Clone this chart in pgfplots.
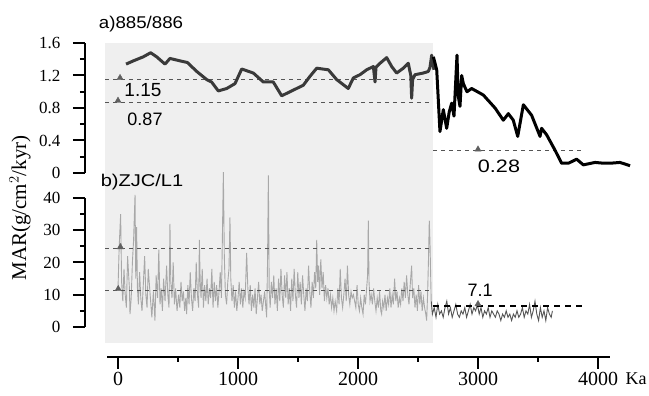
\documentclass[border=0pt]{standalone}
\usepackage{pgfplots}
\pgfplotsset{compat=1.18}
\usepackage{fontspec}
\setmainfont{Liberation Serif}
\newfontfamily\labsans{Liberation Sans}
\definecolor{bgshade}{HTML}{EFEFEF}
\definecolor{topgrey}{HTML}{3A3A3A}
\definecolor{botgrey}{HTML}{A8A8A8}
\definecolor{botdark}{HTML}{555555}
\definecolor{dashc}{HTML}{555555}
\definecolor{tric}{HTML}{606060}

\pgfplotsset{
  panel/.style={
    scale only axis, anchor=south west, width=525pt,
    xmin=-275, xmax=4100, clip=false,
    axis x line=none, axis y line=left,
    y axis line style={-, line width=2.6pt},
    tick align=outside,
    major tick length=12pt, minor tick length=5pt,
    every tick/.style={black, line width=2pt},
    ytick pos=left,
    /pgf/number format/assume math mode=true,
    /pgf/number format/1000 sep={},
    yticklabel style={font=\fontsize{17}{19}\selectfont, xshift=-9pt},
  },
  dline/.style={dashc, line width=1pt, dash pattern=on 4pt off 4pt},
}

\pgfplotstableread{
x y
67 1.34
128 1.38
211 1.43
272 1.48
322 1.43
392 1.34
433 1.41
517 1.38
578 1.36
656 1.25
739 1.15
780 1.12
836 1.01
906 1.04
975 1.10
1031 1.28
1128 1.23
1211 1.12
1294 1.12
1364 0.95
1461 1.02
1544 1.08
1600 1.19
1656 1.29
1753 1.27
1822 1.15
1919 1.04
1961 1.17
2017 1.21
2072 1.27
2128 1.31
2142 1.12
2150 1.30
2183 1.35
2239 1.42
2281 1.31
2322 1.23
2378 1.29
2419 1.35
2440 1.20
2447 0.92
2455 1.15
2475 1.21
2544 1.23
2586 1.25
2600 1.30
2614 1.45
2633 1.27
}\topA

\pgfplotstableread{
x y
2628 1.43
2656 1.27
2683 0.51
2711 0.78
2739 0.55
2760 0.75
2781 0.86
2800 0.70
2825 1.45
2835 0.95
2850 0.82
2864 1.20
2878 1.10
2908 1.00
2947 1.04
3044 0.96
3142 0.80
3211 0.65
3253 0.73
3294 0.65
3331 0.45
3378 0.84
3447 0.71
3517 0.45
3530 0.55
3572 0.47
3642 0.28
3697 0.12
3753 0.12
3822 0.17
3878 0.10
3975 0.13
4050 0.12
4100 0.12
4183 0.13
4267 0.09
}\topB

\pgfplotstableread{
x y
0 12
10 25
22 35
30 14
40 8
50 18
60 10
70 6
80 22
95 12
100 4
110 9
120 20
130 27
142 41
148 15
155 31
162 12
170 7
180 17
190 9
200 5
212 14
222 22
232 10
242 6
252 18
262 13
272 8
282 3
295 11
308 2
318 16
330 9
340 24
350 7
360 12
370 5
380 15
392 8
405 19
415 10
425 6
433 32
440 14
450 9
460 20
470 7
480 12
492 5
505 10
515 6
525 14
535 8
545 11
555 5
565 9
572 4
582 13
592 7
602 17
612 9
622 5
632 12
642 8
652 20
662 10
672 6
678 27
685 14
692 9
702 18
712 6
722 13
732 8
742 15
752 7
762 12
772 9
782 18
792 6
802 14
812 8
822 13
832 6
842 11
852 17
862 9
870 28
878 48
886 22
895 10
905 7
915 14
925 18
933 34
940 15
950 8
960 13
970 6
980 11
990 5
1000 9
1010 14
1020 7
1030 12
1040 6
1050 11
1060 9
1072 23
1082 12
1092 7
1102 13
1112 5
1122 10
1132 6
1142 12
1152 4
1162 9
1172 14
1182 7
1192 10
1202 5
1212 8
1222 11
1232 6
1239 3
1246 20
1253 47
1260 12
1268 6
1278 14
1288 9
1298 16
1308 7
1318 12
1328 5
1338 15
1348 8
1358 18
1368 10
1378 6
1388 16
1398 9
1408 17
1418 7
1428 12
1438 5
1448 15
1458 8
1468 18
1478 10
1488 6
1498 17
1508 9
1518 14
1528 7
1538 16
1548 10
1558 5
1568 12
1578 8
1588 19
1598 11
1608 6
1618 14
1628 9
1638 17
1648 12
1656 27
1664 14
1672 19
1680 10
1690 21
1700 12
1710 17
1720 8
1730 13
1740 9
1750 12
1760 7
1770 10
1780 6
1790 9
1800 5
1810 8
1822 5
1832 12
1842 7
1852 18
1862 9
1872 6
1882 10
1892 15
1902 8
1912 19
1922 10
1932 7
1942 11
1952 9
1962 10
1972 8
1982 6
1992 13
2002 7
2012 5
2022 9
2032 6
2042 4
2052 10
2062 7
2072 12
2080 16
2086 33
2092 14
2100 8
2110 10
2120 7
2130 12
2140 8
2150 5
2160 9
2170 6
2180 11
2190 5
2197 4
2205 8
2215 6
2225 10
2235 5
2245 9
2255 7
2265 12
2275 6
2285 10
2295 7
2305 15
2315 8
2325 11
2335 6
2345 9
2355 7
2365 12
2375 8
2385 14
2395 9
2405 16
2415 10
2425 7
2435 13
2447 19
2455 9
2465 12
2475 6
2485 10
2495 5
2505 13
2515 7
2525 11
2535 5
2545 9
2555 6
2565 4
2572 2
2580 10
2588 22
2594 33
2600 26
2610 8
}\botA

\pgfplotstableread{
x y
2610 8
2620 4
2635 6
2650 3
2665 7
2680 4
2695 5
2710 3
2725 6
2740 8
2755 4
2770 6
2785 3
2800 5
2815 7
2830 4
2845 3
2860 5
2875 4
2890 6
2905 3
2920 5
2935 7
2950 4
2965 6
2980 5
2995 7
3010 4
3025 6
3040 3
3055 5
3070 4
3085 6
3100 3
3115 5
3130 4
3145 3
3160 5
3175 4
3190 2
3205 4
3220 3
3235 5
3250 3
3265 4
3280 2
3295 4
3310 3
3325 5
3340 3
3355 4
3370 6
3385 3
3400 5
3415 4
3430 7
3445 3
3460 5
3475 8
3490 4
3505 2
3520 6
3535 3
3550 5
3565 2
3580 6
3595 4
3610 3
3620 5
}\botB

\begin{document}
\begin{tikzpicture}
\useasboundingbox (0pt,0pt) rectangle (649pt,396pt);

% base axis: shaded background and x axis
\begin{axis}[
  at={(107pt,39pt)}, anchor=south west, scale only axis,
  width=503pt, height=314pt,
  xmin=-92, xmax=4100, ymin=0, ymax=314,
  axis x line=bottom, axis y line=none,
  x axis line style={-, line width=2.6pt},
  clip=false,
  tick align=outside,
  major tick length=12pt, minor tick length=5pt,
  every tick/.style={black, line width=2pt},
  xtick={0,1000,2000,3000,4000},
  minor xtick={500,1500,2500,3500},
  xtick pos=bottom,
  /pgf/number format/assume math mode=true,
  /pgf/number format/1000 sep={},
  xticklabel style={font=\fontsize{20}{22}\selectfont},
]
\fill[bgshade] (axis cs:-108,14) rectangle (axis cs:2625,314);
\node[font=\fontsize{18}{20}\selectfont] at (axis cs:4317,-22) {Ka};
\end{axis}

% bottom panel
\begin{axis}[panel,
  at={(85pt,69pt)}, height=129pt,
  ymin=0, ymax=40,
  ytick={0,10,20,30,40}, minor ytick={5,15,25,35},
]
\addplot[botgrey, line width=0.9pt] table {\botA};
\addplot[botdark, line width=0.9pt] table {\botB};
\addplot[dline] coordinates {(-108,24.2) (2625,24.2)};
\addplot[dline] coordinates {(-108,11.2) (2625,11.2)};
\addplot[black, line width=1.8pt, dash pattern=on 6pt off 5pt] coordinates {(2625,6.5) (3870,6.5)};
\addplot[only marks, mark=triangle*, mark size=3.6pt, tric] coordinates {(20,24.8) (2,11.8) (3000,7.1)};
\node[font=\labsans\fontsize{17}{19}\selectfont, xscale=1.18] at (axis cs:200,45) {b)ZJC/L1};
\node[font=\labsans\fontsize{18}{20}\selectfont] at (axis cs:3017,11.5) {7.1};
\end{axis}

% top panel
\begin{axis}[panel,
  at={(85pt,223pt)}, height=130pt,
  ymin=0, ymax=1.6,
  ytick={0,0.4,0.8,1.2,1.6}, minor ytick={0.2,0.6,1.0,1.4},
  yticklabel style={/pgf/number format/fixed, /pgf/number format/precision=1},
]
\addplot[dline] coordinates {(-108,1.15) (2625,1.15)};
\addplot[dline] coordinates {(-108,0.87) (2625,0.87)};
\addplot[dline] coordinates {(2625,0.28) (3867,0.28)};
\addplot[topgrey, line width=3pt, line join=round] table {\topA};
\addplot[black, line width=3pt, line join=round] table {\topB};
\addplot[only marks, mark=triangle*, mark size=3.6pt, tric] coordinates {(17,1.17) (0,0.89) (3000,0.29)};
\node[font=\labsans\fontsize{17}{19}\selectfont, xscale=1.1] at (axis cs:192,1.83) {a)885/886};
\node[font=\labsans\fontsize{19}{21}\selectfont] at (axis cs:208,1.02) {1.15};
\node[font=\labsans\fontsize{18}{20}\selectfont] at (axis cs:225,0.66) {0.87};
\node[font=\labsans\fontsize{18}{20}\selectfont, xscale=1.2] at (axis cs:3175,0.086) {0.28};
\end{axis}

\node[rotate=90, font=\fontsize{21}{23}\selectfont] at (20pt,188pt) {MAR(g/cm$^{2}$/kyr)};
\end{tikzpicture}
\end{document}
